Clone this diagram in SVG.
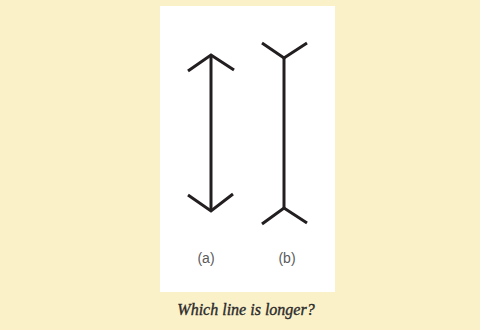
<svg xmlns="http://www.w3.org/2000/svg" width="480" height="330" viewBox="0 0 480 330">
<style>
.ln{stroke:#231f20;stroke-width:3;fill:none;stroke-linecap:butt;stroke-linejoin:miter}
.lbl{font-family:"Liberation Sans",Arial,sans-serif;font-size:14px;fill:#5a5a5a;text-anchor:middle}
.cap{font-family:"Liberation Serif","Times New Roman",serif;font-style:italic;font-size:16px;fill:#2a2a2a;stroke:#2a2a2a;stroke-width:0.35;text-anchor:middle}
</style>
<rect x="0" y="0" width="480" height="330" fill="#fbf1c9"/>
<rect x="160" y="6" width="175" height="286" fill="#ffffff"/>
<g id="connectors">
<g id="line-a">
<line class="ln" x1="211" y1="56" x2="211" y2="210"/>
<polyline class="ln" points="188,71 211,55 234,70"/>
<polyline class="ln" points="188,195 211,211 233,194"/>
</g>
<g id="line-b">
<line class="ln" x1="284" y1="58" x2="284" y2="208"/>
<polyline class="ln" points="262,43 284,58 307,43"/>
<polyline class="ln" points="262,224 284,208 307,223"/>
</g>
</g>
<g id="label-a"><text class="lbl" x="206" y="263">(a)</text></g>
<g id="label-b"><text class="lbl" x="287" y="263">(b)</text></g>
<g id="caption"><text class="cap" x="246" y="315">Which line is longer?</text></g>
</svg>
